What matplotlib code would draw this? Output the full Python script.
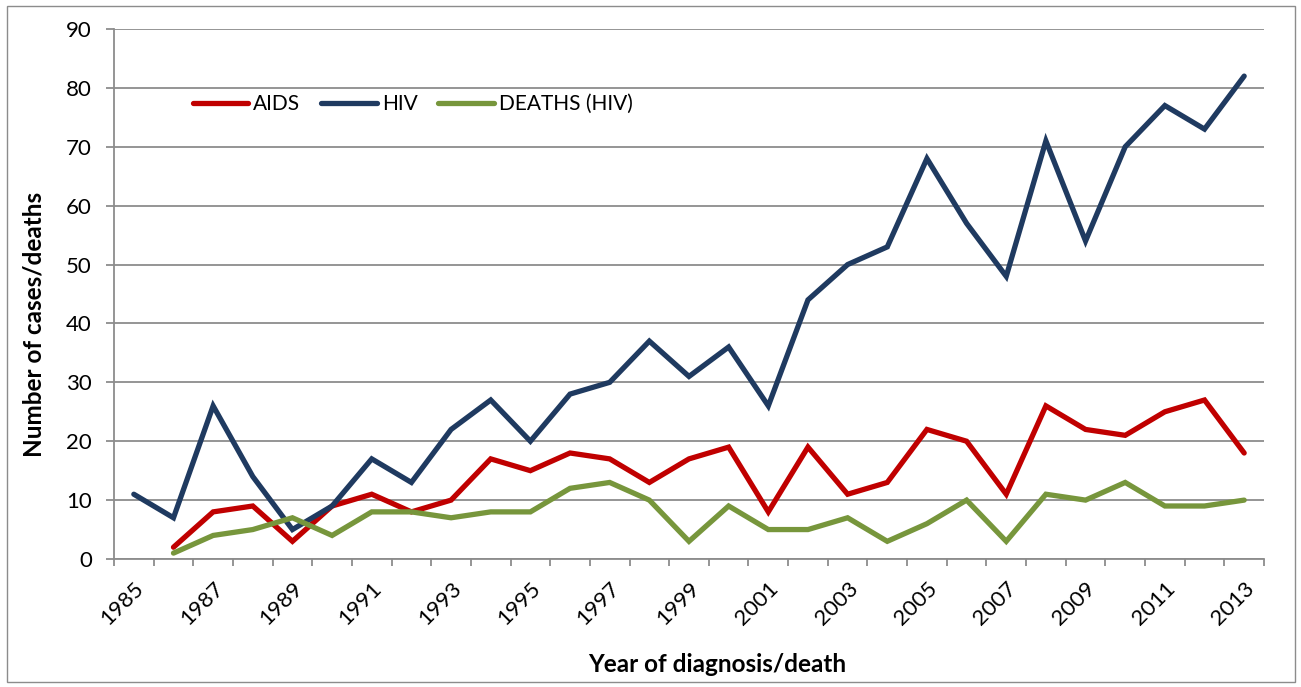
import numpy as np
import matplotlib.pyplot as plt
import matplotlib.transforms as mtransforms
from matplotlib.patches import Rectangle

years = list(range(1985, 2014))
hiv = [11, 7, 26, 14, 5, 9, 17, 13, 22, 27, 20, 28, 30, 37, 31, 36, 26, 44, 50, 53,
       68, 57, 48, 71, 54, 70, 77, 73, 82]
# AIDS and deaths start in 1986
aids = [np.nan, 2, 8, 9, 3, 9, 11, 8, 10, 17, 15, 18, 17, 13, 17, 19, 8, 19, 11, 13,
        22, 20, 11, 26, 22, 21, 25, 27, 18]
deaths = [np.nan, 1, 4, 5, 7, 4, 8, 8, 7, 8, 8, 12, 13, 10, 3, 9, 5, 5, 7, 3,
          6, 10, 3, 11, 10, 13, 9, 9, 10]

plt.rcParams['font.family'] = ['Lato', 'DejaVu Sans']

W, H = 1301, 687
fig = plt.figure(figsize=(W / 100, H / 100), dpi=100)
ax = fig.add_axes([114 / W, 1 - 559 / H, (1264 - 114) / W, (559 - 29) / H])

x = np.arange(len(years))
lw = 3.8
ax.plot(x, aids, color='#C00000', lw=lw, label='AIDS', solid_capstyle='round', solid_joinstyle='miter')
ax.plot(x, hiv, color='#1F3A60', lw=lw, label='HIV', solid_capstyle='round', solid_joinstyle='miter')
ax.plot(x, deaths, color='#77963C', lw=lw, label='DEATHS (HIV)', solid_capstyle='round', solid_joinstyle='miter')

ax.set_xlim(-0.5, len(years) - 0.5)
ax.set_ylim(0, 90)
ax.set_yticks(range(0, 91, 10))
ax.yaxis.grid(True, color='#8C8C8C', lw=1.3)
ax.set_axisbelow(True)

# ticks on category boundaries, labels every other year at centres
ax.set_xticks(np.arange(-0.5, len(years), 1))
ax.set_xticklabels([])
ax.set_xticks(x[::2], minor=True)
labels = ax.set_xticklabels([str(y) for y in years[::2]], minor=True, rotation=45,
                            ha='right', va='top', rotation_mode='anchor', fontsize=16)
shift = mtransforms.ScaledTranslation(4 / 100, 0, fig.dpi_scale_trans)
for t in labels:
    t.set_transform(t.get_transform() + shift)
ax.tick_params(axis='x', which='minor', length=0, pad=14)
ax.tick_params(axis='x', which='major', length=5, width=1.3, color='#8C8C8C')
ax.tick_params(axis='y', length=6, width=1.3, color='#8C8C8C', labelsize=16, pad=10)

for s in ['top', 'right']:
    ax.spines[s].set_visible(False)
for s in ['left', 'bottom']:
    ax.spines[s].set_color('#8C8C8C')
    ax.spines[s].set_linewidth(1.3)

fig.text(34 / W, 1 - 324 / H, 'Number of cases/deaths', fontsize=17.5,
         fontweight='bold', rotation=90, ha='center', va='center')
fig.text(717 / W, 1 - 664 / H, 'Year of diagnosis/death', fontsize=17.5,
         fontweight='bold', ha='center', va='center')

ax.legend(loc='center left', bbox_to_anchor=(193 / W, 1 - 104 / H),
          bbox_transform=fig.transFigure, ncol=3, frameon=False,
          fontsize=15, handlelength=2.65, handletextpad=0.25, columnspacing=1.0,
          borderpad=0, borderaxespad=0)

fig.patches.append(Rectangle((7 / W, 1 - 682 / H), 1288 / W, 676 / H,
                             transform=fig.transFigure, fill=False,
                             edgecolor='#8C8C8C', lw=1))

fig.savefig('out.png', dpi=100)
